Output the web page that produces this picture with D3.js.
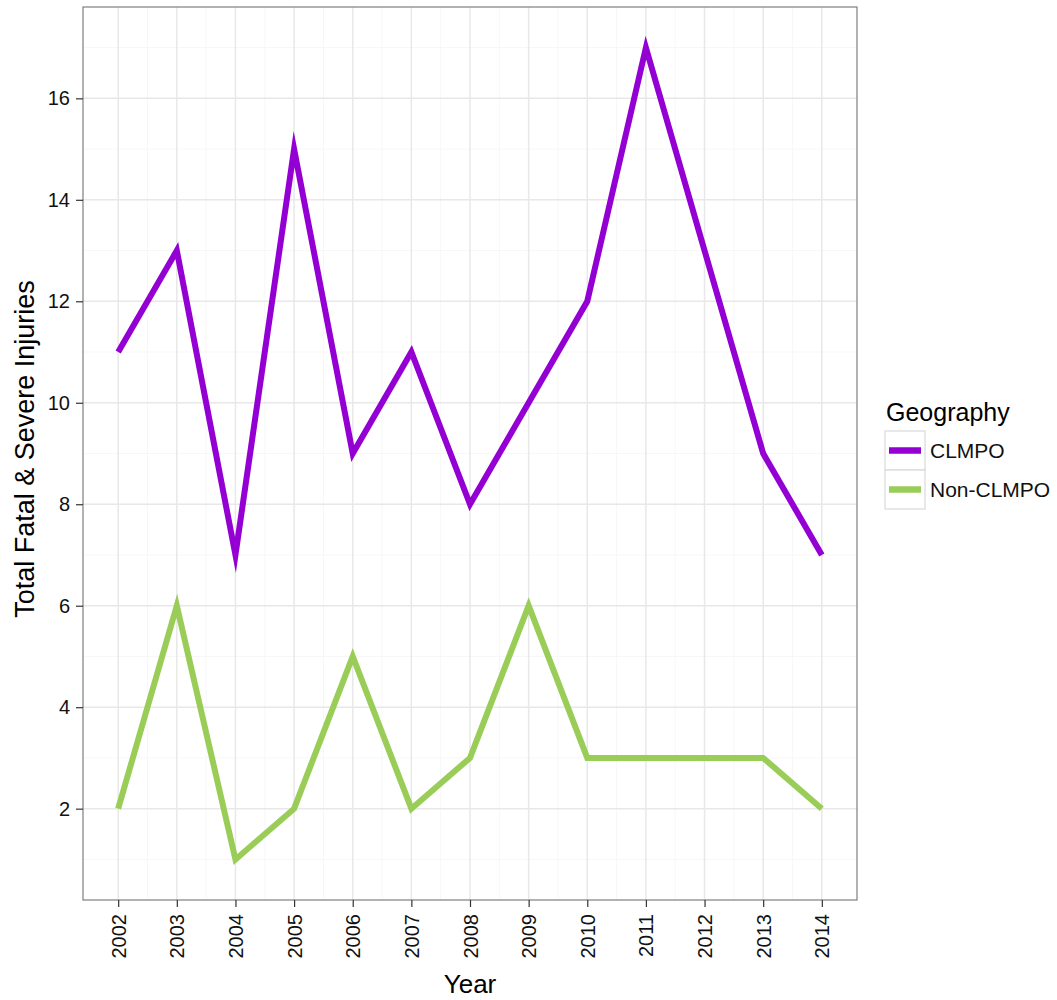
<!DOCTYPE html>
<html>
<head>
<meta charset="utf-8">
<script src="https://cdn.jsdelivr.net/npm/d3@7"></script>
<style>
  html, body { margin: 0; padding: 0; background: #fff; overflow: hidden; }
  svg { display: block; }
  text { font-family: "Liberation Sans", Arial, sans-serif; }
</style>
</head>
<body>
<div id="viz"></div>
<script>
const years = [2002, 2003, 2004, 2005, 2006, 2007, 2008, 2009, 2010, 2011, 2012, 2013, 2014]
const clmpo = [11, 13, 7, 15, 9, 11, 8, 10, 12, 17, 13, 9, 7]
const nonClmpo = [2, 6, 1, 2, 5, 2, 3, 6, 3, 3, 3, 3, 2]
const yTicks = [2, 4, 6, 8, 10, 12, 14, 16]
const seriesNames = ['CLMPO', 'Non-CLMPO']
const seriesColors = ['#9400d3', '#9acd58']

const w = 1057, h = 1000
const margin = { top: 7, right: 200, bottom: 100, left: 83 }
const innerWidth = 857 - margin.left
const innerHeight = 900 - margin.top

const svg = d3.select('#viz')
    .append('svg')
    .attr('width', w)
    .attr('height', h)

const g = svg.append('g')
    .attr('transform', `translate(${margin.left}, ${margin.top})`)

const x = d3.scaleLinear()
    .domain([2001.4, 2014.6])
    .range([0, innerWidth])

const y = d3.scaleLinear()
    .domain([0.2, 17.8])
    .range([innerHeight, 0])

// minor grid
const xMinor = years.slice(0, -1).map(d => d + 0.5)
const yMinor = [1, 3, 5, 7, 9, 11, 13, 15, 17]
g.selectAll('.xminor').data(xMinor).enter().append('line')
    .attr('x1', d => x(d)).attr('x2', d => x(d))
    .attr('y1', 0).attr('y2', innerHeight)
    .attr('stroke', '#f7f7f7').attr('stroke-width', 1)
g.selectAll('.yminor').data(yMinor).enter().append('line')
    .attr('y1', d => y(d)).attr('y2', d => y(d))
    .attr('x1', 0).attr('x2', innerWidth)
    .attr('stroke', '#f7f7f7').attr('stroke-width', 1)

// major grid
g.selectAll('.xmajor').data(years).enter().append('line')
    .attr('x1', d => x(d)).attr('x2', d => x(d))
    .attr('y1', 0).attr('y2', innerHeight)
    .attr('stroke', '#e8e8e8').attr('stroke-width', 1.5)
g.selectAll('.ymajor').data(yTicks).enter().append('line')
    .attr('y1', d => y(d)).attr('y2', d => y(d))
    .attr('x1', 0).attr('x2', innerWidth)
    .attr('stroke', '#e8e8e8').attr('stroke-width', 1.5)

// lines
const line = d3.line()
    .x((d, i) => x(years[i]))
    .y(d => y(d))

;[clmpo, nonClmpo].forEach((s, i) => {
    g.append('path')
        .datum(s)
        .attr('d', line)
        .attr('fill', 'none')
        .attr('stroke', seriesColors[i])
        .attr('stroke-width', 6)
        .attr('stroke-linejoin', 'miter')
        .attr('stroke-miterlimit', 10)
})

// border
g.append('rect')
    .attr('width', innerWidth)
    .attr('height', innerHeight)
    .attr('fill', 'none')
    .attr('stroke', '#7f7f7f')
    .attr('stroke-width', 1.2)

// axes
const yAxisG = g.append('g')
    .call(d3.axisLeft(y).tickValues(yTicks).tickSize(7).tickPadding(6))
yAxisG.select('.domain').remove()
yAxisG.selectAll('line').attr('stroke', '#333').attr('stroke-width', 1.2)
yAxisG.selectAll('text').attr('font-size', 20).attr('fill', '#111')

const xAxisG = g.append('g')
    .attr('transform', `translate(0, ${innerHeight})`)
    .call(d3.axisBottom(x).tickValues(years).tickFormat(d3.format('d')).tickSize(7))
xAxisG.select('.domain').remove()
xAxisG.selectAll('line').attr('stroke', '#333').attr('stroke-width', 1.2)
// rotated year labels
xAxisG.selectAll('.tick text').remove()
xAxisG.selectAll('.tick')
    .append('g')
    .attr('transform', 'translate(0, 14) rotate(-90)')
    .append('text')
    .attr('font-size', 20)
    .attr('fill', '#111')
    .attr('text-anchor', 'end')
    .attr('dy', '0.35em')
    .text(d => d)

// axis titles
svg.append('text')
    .attr('x', margin.left + innerWidth / 2)
    .attr('y', 993)
    .attr('text-anchor', 'middle')
    .attr('font-size', 26)
    .attr('fill', '#000')
    .text('Year')

svg.append('g')
    .attr('transform', 'translate(34, 449) rotate(-90)')
    .append('text')
    .attr('text-anchor', 'middle')
    .attr('font-size', 27)
    .attr('fill', '#000')
    .text('Total Fatal & Severe Injuries')

// legend
const lg = svg.append('g').attr('transform', 'translate(885, 0)')
lg.append('text')
    .attr('x', 1)
    .attr('y', 421)
    .attr('font-size', 25)
    .attr('fill', '#000')
    .text('Geography')

seriesNames.forEach((name, i) => {
    const top = 431 + i * 39
    lg.append('rect')
        .attr('x', 0).attr('y', top)
        .attr('width', 40).attr('height', 39)
        .attr('fill', '#fff')
        .attr('stroke', '#d9d9d9')
        .attr('stroke-width', 1.2)
    lg.append('line')
        .attr('x1', 4).attr('x2', 36)
        .attr('y1', top + 19.5).attr('y2', top + 19.5)
        .attr('stroke', seriesColors[i])
        .attr('stroke-width', 6.5)
    lg.append('text')
        .attr('x', 45)
        .attr('y', top + 19.5)
        .attr('dy', '0.35em')
        .attr('font-size', 21)
        .attr('fill', '#111')
        .text(name)
})
</script>
</body>
</html>
